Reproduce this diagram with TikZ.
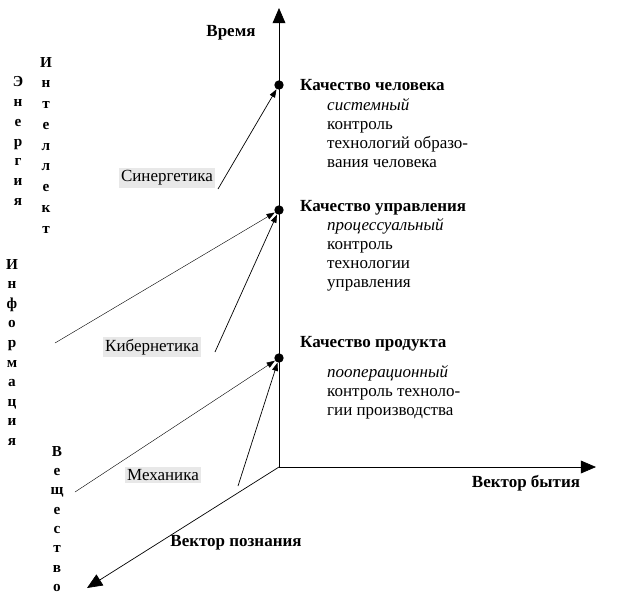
\documentclass[tikz,border=0pt]{standalone}
\usepackage{fontspec}
\setmainfont{Liberation Serif}
\usetikzlibrary{arrows.meta, positioning}

\tikzset{
  axis/.style={line width=0.6pt, -{Triangle[length=13pt,width=11pt]}},
  ray/.style={line width=0.6pt, -{Triangle[length=7pt,width=5pt]}},
  thinray/.style={line width=0.35pt, -{Triangle[length=7pt,width=5pt]}},
  dot/.style={circle, fill, inner sep=0pt, minimum size=8pt},
  science/.style={fill=gray!18, inner sep=2pt, font=\fontsize{14.5}{16}\selectfont},
  quality/.style={anchor=base west, inner sep=0pt, font=\fontsize{14.5}{16}\selectfont\bfseries},
  descr/.style={align=left, anchor=north west, inner sep=0pt, font=\fontsize{14.5}{16.4}\selectfont},
  letters/.style={align=center, anchor=north, inner sep=0pt, font=\fontsize{13}{#1}\selectfont\bfseries},
}

\begin{document}
\begin{tikzpicture}[x=0.03cm,y=-0.03cm]
    \useasboundingbox (0,0) rectangle (621,606);
    % axes
    \coordinate (O) at (279,467);
    \coordinate (T) at (279,8);
    \coordinate (B) at (596,467);
    \coordinate (P) at (87,588);
    \draw[axis] (O)--(T);
    \draw[axis] (O)--(B);
    \draw[axis] (O)--(P);
    \node[font=\fontsize{14.5}{16}\selectfont\bfseries] (time) at (231,33) {Время};
    \node[font=\fontsize{14.5}{16}\selectfont\bfseries] (being) at (526,483) {Вектор бытия};
    \node[font=\fontsize{14.5}{16}\selectfont\bfseries] (cogn) at (236,543) {Вектор познания};
    % levels
    \node[dot] (d1) at (279,85) {};
    \node[dot] (d2) at (279,210) {};
    \node[dot] (d3) at (279,358) {};
    \node[quality] (q1) at (300,90) {Качество человека};
    \node[descr] (t1) at (327,98) {\textit{системный}\\контроль\\технологий образо-\\вания человека};
    \node[quality] (q2) at (300,211) {Качество управления};
    \node[descr] (t2) at (327,218) {\textit{процессуальный}\\контроль\\технологии\\управления};
    \node[quality] (q3) at (300,347) {Качество продукта};
    \node[descr] (t3) at (327,365) {\textit{пооперационный}\\контроль техноло-\\гии производства};
    % sciences
    \node[science] (syn) at (167,178) {Синергетика};
    \node[science] (cyb) at (152,347) {Кибернетика};
    \node[science] (mech) at (163,475) {Механика};
    \coordinate (s1) at (218,189);
    \coordinate (c1) at (55,343);
    \coordinate (c2) at (215,352);
    \coordinate (m1) at (75,492);
    \coordinate (m2) at (238,486);
    \draw[ray] (s1)--(d1);
    \draw[thinray] (c1)--(d2);
    \draw[ray] (c2)--(d2);
    \draw[thinray] (m1)--(d3);
    \draw[ray] (m2)--(d3);
    % vertical words
    \node[letters=17pt] (energy) at (18,76) {Э\\н\\е\\р\\г\\и\\я};
    \node[letters=17.7pt] (intel) at (46,57) {И\\н\\т\\е\\л\\л\\е\\к\\т};
    \node[letters=16.7pt] (inform) at (12,259) {И\\н\\ф\\о\\р\\м\\а\\ц\\и\\я};
    \node[letters=16.5pt] (matter) at (57,446) {В\\е\\щ\\е\\с\\т\\в\\о};
\end{tikzpicture}
\end{document}
